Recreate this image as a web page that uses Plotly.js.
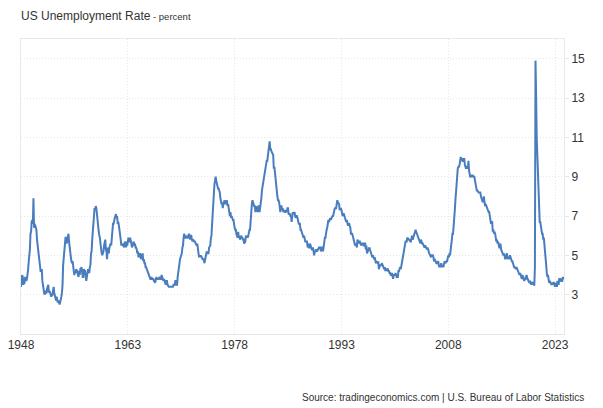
<!DOCTYPE html>
<html>
<head>
<meta charset="utf-8">
<script src="https://cdn.plot.ly/plotly-3.0.1.min.js"></script>
<style>
html,body{margin:0;padding:0;background:#fff;}
#chart{width:603px;height:408px;}
</style>
</head>
<body>
<div id="chart"></div>
<script>
// Monthly US unemployment rate (%), by decade
const startYear = 1948;
const rate1948to1949 = [
  3.4,3.8,4.0,3.9,3.5,3.6,3.6,3.9,3.8,3.7,3.8,4.0,
  4.3,4.7,5.0,5.3,6.1,6.2,6.7,6.8,6.6,7.9,6.4,6.6
];
const rate1950s = [
  6.5,6.4,6.3,5.8,5.5,5.4,5.0,4.5,4.4,4.2,4.2,4.3,
  3.7,3.4,3.4,3.1,3.0,3.2,3.1,3.1,3.3,3.5,3.5,3.1,
  3.2,3.1,2.9,2.9,3.0,3.0,3.2,3.4,3.1,3.0,2.8,2.7,
  2.9,2.6,2.6,2.7,2.5,2.5,2.6,2.7,2.9,3.1,3.5,4.5,
  4.9,5.2,5.7,5.9,5.9,5.6,5.8,6.0,6.1,5.7,5.3,5.0,
  4.9,4.7,4.6,4.7,4.3,4.2,4.0,4.2,4.1,4.3,4.2,4.2,
  4.0,3.9,4.2,4.0,4.3,4.3,4.4,4.1,3.9,3.9,4.3,4.2,
  4.2,3.9,3.7,3.9,4.1,4.3,4.2,4.1,4.4,4.5,5.1,5.2,
  5.8,6.4,6.7,7.4,7.4,7.3,7.5,7.4,7.1,6.7,6.2,6.2,
  6.0,5.9,5.6,5.2,5.1,5.0,5.1,5.2,5.5,5.7,5.8,5.3
];
const rate1960s = [
  5.2,4.8,5.4,5.2,5.1,5.4,5.5,5.6,5.5,6.1,6.1,6.6,
  6.6,6.9,6.9,7.0,7.1,6.9,7.0,6.6,6.7,6.5,6.1,6.0,
  5.8,5.5,5.6,5.6,5.5,5.5,5.4,5.7,5.6,5.4,5.7,5.5,
  5.7,5.9,5.7,5.7,5.9,5.6,5.6,5.4,5.5,5.5,5.7,5.5,
  5.6,5.4,5.4,5.3,5.1,5.2,4.9,5.0,5.1,5.1,4.8,5.0,
  4.9,5.1,4.7,4.8,4.6,4.6,4.4,4.4,4.3,4.2,4.1,4.0,
  4.0,3.8,3.8,3.8,3.9,3.8,3.8,3.8,3.7,3.7,3.6,3.8,
  3.9,3.8,3.8,3.8,3.8,3.9,3.8,3.8,3.8,4.0,3.9,3.8,
  3.7,3.8,3.7,3.5,3.5,3.7,3.7,3.5,3.4,3.4,3.4,3.4,
  3.4,3.4,3.4,3.4,3.4,3.5,3.5,3.5,3.7,3.7,3.5,3.5
];
const rate1970s = [
  3.9,4.2,4.4,4.6,4.8,4.9,5.0,5.1,5.4,5.5,5.9,6.1,
  5.9,5.9,6.0,5.9,5.9,5.9,6.0,6.1,6.0,5.8,6.0,6.0,
  5.8,5.7,5.8,5.7,5.7,5.7,5.6,5.6,5.5,5.6,5.3,5.2,
  4.9,5.0,4.9,5.0,4.9,4.9,4.8,4.8,4.8,4.6,4.8,4.9,
  5.1,5.2,5.1,5.1,5.1,5.4,5.5,5.5,5.9,6.0,6.6,7.2,
  8.1,8.1,8.6,8.8,9.0,8.8,8.6,8.4,8.4,8.4,8.3,8.2,
  7.9,7.7,7.6,7.7,7.4,7.6,7.8,7.8,7.6,7.7,7.8,7.8,
  7.5,7.6,7.4,7.2,7.0,7.2,6.9,7.0,6.8,6.8,6.8,6.4,
  6.4,6.3,6.3,6.1,6.0,5.9,6.2,5.9,6.0,5.8,5.9,6.0,
  5.9,5.9,5.8,5.8,5.6,5.7,5.7,6.0,5.9,6.0,5.9,6.0
];
const rate1980s = [
  6.3,6.3,6.3,6.9,7.5,7.6,7.8,7.7,7.5,7.5,7.5,7.2,
  7.5,7.4,7.4,7.2,7.5,7.5,7.2,7.4,7.6,7.9,8.3,8.5,
  8.6,8.9,9.0,9.3,9.4,9.6,9.8,9.8,10.1,10.4,10.8,10.8,
  10.4,10.4,10.3,10.2,10.1,10.1,9.4,9.5,9.2,8.8,8.5,8.3,
  8.0,7.8,7.8,7.7,7.4,7.2,7.5,7.5,7.3,7.4,7.2,7.3,
  7.3,7.2,7.2,7.3,7.2,7.4,7.4,7.1,7.1,7.1,7.0,7.0,
  6.7,7.2,7.2,7.1,7.2,7.2,7.0,6.9,7.0,7.0,6.9,6.6,
  6.6,6.6,6.6,6.3,6.3,6.2,6.1,6.0,5.9,6.0,5.8,5.7,
  5.7,5.7,5.7,5.4,5.6,5.4,5.4,5.6,5.4,5.4,5.3,5.3,
  5.4,5.2,5.0,5.2,5.2,5.3,5.2,5.2,5.3,5.3,5.4,5.4
];
const rate1990s = [
  5.4,5.3,5.2,5.4,5.4,5.2,5.5,5.7,5.9,5.9,6.2,6.3,
  6.4,6.6,6.8,6.7,6.9,6.9,6.8,6.9,6.9,7.0,7.0,7.3,
  7.3,7.4,7.4,7.4,7.6,7.8,7.7,7.6,7.6,7.3,7.4,7.4,
  7.3,7.1,7.0,7.1,7.1,7.0,6.9,6.8,6.7,6.8,6.6,6.5,
  6.6,6.6,6.5,6.4,6.1,6.1,6.1,6.0,5.9,5.8,5.6,5.5,
  5.6,5.4,5.4,5.8,5.6,5.6,5.7,5.7,5.6,5.5,5.6,5.6,
  5.6,5.5,5.5,5.6,5.6,5.3,5.5,5.1,5.2,5.2,5.4,5.4,
  5.3,5.2,5.2,5.1,4.9,5.0,4.9,4.8,4.9,4.7,4.6,4.7,
  4.6,4.6,4.7,4.3,4.4,4.5,4.5,4.5,4.6,4.5,4.4,4.4,
  4.3,4.4,4.2,4.3,4.2,4.3,4.3,4.2,4.2,4.1,4.1,4.0
];
const rate2000s = [
  4.0,4.1,4.0,3.8,4.0,4.0,4.0,4.1,3.9,3.9,3.9,3.9,
  4.2,4.2,4.3,4.4,4.3,4.5,4.6,4.9,5.0,5.3,5.5,5.7,
  5.7,5.7,5.7,5.9,5.8,5.8,5.8,5.7,5.7,5.7,5.9,6.0,
  5.8,5.9,5.9,6.0,6.1,6.3,6.2,6.1,6.1,6.0,5.8,5.7,
  5.7,5.6,5.8,5.6,5.6,5.6,5.5,5.4,5.4,5.5,5.4,5.4,
  5.3,5.4,5.2,5.2,5.1,5.0,5.0,4.9,5.0,5.0,5.0,4.9,
  4.7,4.8,4.7,4.7,4.6,4.6,4.7,4.7,4.5,4.4,4.5,4.4,
  4.6,4.5,4.4,4.5,4.4,4.6,4.7,4.6,4.7,4.7,4.7,5.0,
  5.0,4.9,5.1,5.0,5.4,5.6,5.8,6.1,6.1,6.5,6.8,7.3,
  7.8,8.3,8.7,9.0,9.4,9.5,9.5,9.6,9.8,10.0,9.9,9.9
];
const rate2010s = [
  9.8,9.8,9.9,9.9,9.6,9.4,9.4,9.5,9.5,9.4,9.8,9.3,
  9.1,9.0,9.0,9.1,9.0,9.1,9.0,9.0,9.0,8.8,8.6,8.5,
  8.3,8.3,8.2,8.2,8.2,8.2,8.2,8.0,7.8,7.8,7.7,7.9,
  8.0,7.7,7.5,7.6,7.5,7.5,7.3,7.2,7.2,7.2,6.9,6.7,
  6.6,6.7,6.7,6.2,6.3,6.1,6.2,6.1,5.9,5.7,5.8,5.6,
  5.7,5.5,5.4,5.4,5.6,5.3,5.2,5.1,5.0,5.0,5.1,5.0,
  4.8,4.9,5.0,5.1,4.8,4.9,4.8,4.9,5.0,4.9,4.7,4.7,
  4.7,4.6,4.4,4.4,4.4,4.3,4.3,4.4,4.3,4.2,4.2,4.1,
  4.0,4.1,4.0,4.0,3.8,4.0,3.8,3.8,3.7,3.8,3.8,3.9,
  4.0,3.8,3.8,3.7,3.6,3.6,3.7,3.6,3.5,3.6,3.6,3.6
];
const rate2020s = [
  3.5,3.5,4.4,14.9,13.2,11.0,10.2,8.4,7.8,6.8,6.7,6.7,
  6.4,6.2,6.1,6.1,5.8,5.9,5.4,5.1,4.7,4.5,4.1,3.9,
  4.0,3.8,3.6,3.7,3.6,3.6,3.5,3.6,3.5,3.6,3.6,3.5,
  3.4,3.6,3.5,3.4,3.7,3.6,3.5,3.8,3.8,3.8,3.7,3.7,
  3.7,3.9,3.8,3.9
];

const tickVals = ['1948-01-01','1963-01-01','1978-01-01','1993-01-01','2008-01-01','2023-01-01'];
const tickText = ['1948','1963','1978','1993','2008','2023'];
const yTicks = [3,5,7,9,11,13,15];

const values = [].concat(rate1948to1949, rate1950s, rate1960s, rate1970s, rate1980s, rate1990s, rate2000s, rate2010s, rate2020s);
const dates = values.map((v, i) => {
  const y = startYear + Math.floor(i / 12);
  const m = (i % 12) + 1;
  return y + '-' + (m < 10 ? '0' + m : m) + '-01';
});

const font = 'Arial, "Liberation Sans", sans-serif';

const trace = {
  x: dates, y: values, type: 'scatter', mode: 'lines',
  line: {color: '#4a7dbd', width: 2},
  hoverinfo: 'x+y'
};

const layout = {
  width: 603, height: 408,
  margin: {l: 21, r: 39, t: 39, b: 74},
  paper_bgcolor: '#fff', plot_bgcolor: '#fff',
  font: {family: font, color: '#333', size: 12},
  showlegend: false,
  title: {
    text: 'US Unemployment Rate<span style="font-size:9.5px"> - percent</span>',
    font: {family: font, size: 12, color: '#333'},
    xref: 'container', yref: 'container',
    x: 21/603, xanchor: 'left',
    y: 1 - 16/408, yanchor: 'middle'
  },
  xaxis: {
    type: 'date',
    range: [dates[0], dates[dates.length - 1]],
    tickmode: 'array', tickvals: tickVals, ticktext: tickText,
    showgrid: true, gridcolor: '#e6e6e6', griddash: '1px,2px', gridwidth: 1,
    showline: true, linecolor: '#e8e8e8', linewidth: 1, mirror: true,
    ticks: '', tickfont: {size: 12, color: '#333'},
    zeroline: false, fixedrange: true
  },
  yaxis: {
    side: 'right',
    range: [1, 16],
    tickmode: 'array', tickvals: yTicks,
    showgrid: true, gridcolor: '#e6e6e6', griddash: '1px,2px', gridwidth: 1,
    showline: true, linecolor: '#e8e8e8', linewidth: 1, mirror: true,
    ticks: 'outside', ticklen: 4, tickcolor: '#e6e6e6',
    tickfont: {size: 12, color: '#333'},
    zeroline: false, fixedrange: true
  },
  annotations: [{
    text: 'Source: tradingeconomics.com | U.S. Bureau of Labor Statistics',
    xref: 'paper', yref: 'paper',
    x: (586 - 21) / (564 - 21), xanchor: 'right',
    y: 0, yshift: -63, yanchor: 'middle',
    showarrow: false,
    font: {family: font, size: 10, color: '#333'}
  }]
};

Plotly.newPlot('chart', [trace], layout, {displayModeBar: false, staticPlot: true});
</script>
</body>
</html>
